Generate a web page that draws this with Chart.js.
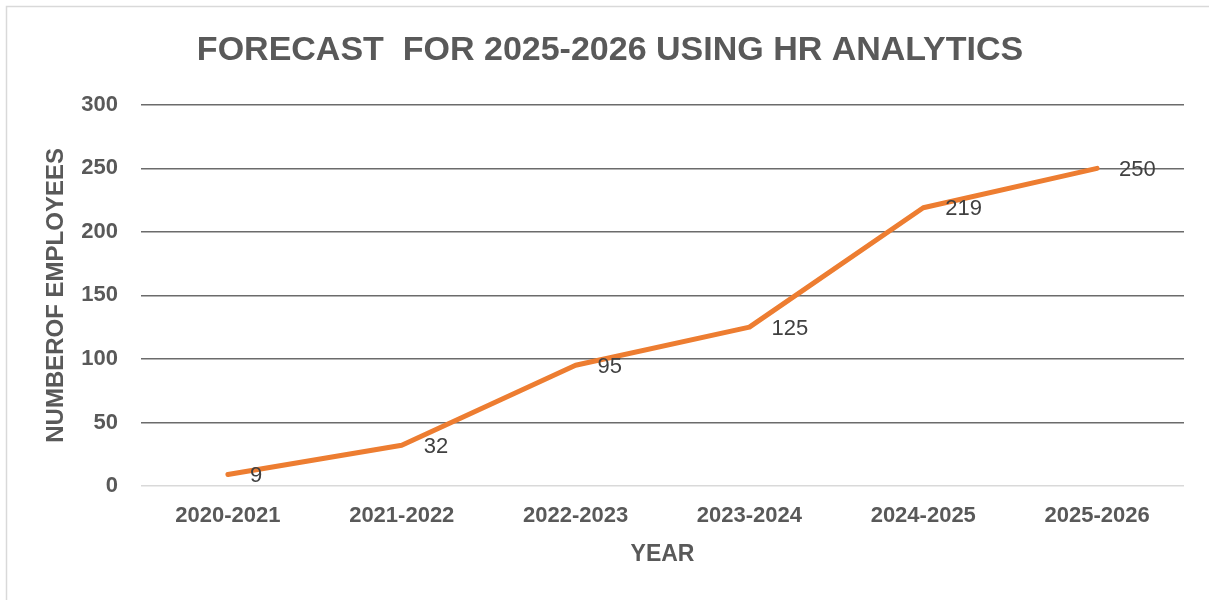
<!DOCTYPE html>
<html>
<head>
<meta charset="utf-8">
<script src="https://cdn.jsdelivr.net/npm/chart.js@4"></script>
<style>
  html, body { margin: 0; padding: 0; background: #fff; }
  #wrap { width: 1209px; height: 600px; position: relative; }
</style>
</head>
<body>
<div id="wrap"><canvas id="forecast"></canvas></div>
<script>
const years = ['2020-2021', '2021-2022', '2022-2023', '2023-2024', '2024-2025', '2025-2026'];
const employees = [9, 32, 95, 125, 219, 250];
const yMin = 0;
const yMax = 300;
const yStep = 50;

const grey = '#595959';
const fontFamily = '"Liberation Sans", Arial, sans-serif';

// borde claro alrededor del gráfico (se corta a la derecha y abajo)
const frame = {
    id: 'frame',
    beforeDraw(chart) {
        const ctx = chart.ctx;
        ctx.save();
        ctx.fillStyle = '#fff';
        ctx.fillRect(0, 0, chart.width, chart.height);
        ctx.strokeStyle = '#d9d9d9';
        ctx.lineWidth = 1.5;
        ctx.strokeRect(6.5, 6.5, chart.width + 10, chart.height + 10);
        ctx.restore();
    }
};

// etiquetas de valor a la derecha de cada punto
const valueLabels = {
    id: 'valueLabels',
    afterDatasetsDraw(chart) {
        const ctx = chart.ctx;
        const meta = chart.getDatasetMeta(0);
        ctx.save();
        ctx.font = '22px ' + fontFamily;
        ctx.fillStyle = '#404040';
        ctx.textAlign = 'left';
        ctx.textBaseline = 'middle';
        meta.data.forEach((pt, i) => {
            ctx.fillText(String(employees[i]), pt.x + 22, pt.y + 1.5);
        });
        ctx.restore();
    }
};

new Chart(document.getElementById('forecast'), {
    type: 'line',
    data: {
        labels: years,
        datasets: [{
            label: 'Employees',
            data: employees,
            borderColor: '#ED7D31',
            borderWidth: 5,
            borderCapStyle: 'round',
            borderJoinStyle: 'round',
            pointRadius: 0,
            tension: 0,
            fill: false
        }]
    },
    options: {
        responsive: true,
        maintainAspectRatio: false,
        animation: false,
        layout: { padding: { top: 0, right: 25, bottom: 0, left: 36 } },
        plugins: {
            legend: { display: false },
            tooltip: { enabled: false },
            title: {
                display: true,
                text: 'FORECAST  FOR 2025-2026 USING HR ANALYTICS',
                color: grey,
                font: { family: fontFamily, size: 34, weight: 'bold' },
                padding: { top: 30, bottom: 34 }
            }
        },
        scales: {
            x: {
                offset: true,
                grid: { display: false, drawTicks: false },
                border: { display: false },
                ticks: {
                    color: grey,
                    padding: 17,
                    maxRotation: 0,
                    font: { family: fontFamily, size: 22, weight: 'bold' }
                },
                title: {
                    display: true,
                    text: 'YEAR',
                    color: grey,
                    padding: { top: 0, bottom: 32 },
                    font: { family: fontFamily, size: 23, weight: 'bold' }
                },
                afterFit(scale) { scale.height = 114; }
            },
            y: {
                min: yMin,
                max: yMax,
                grid: {
                    drawTicks: false,
                    lineWidth: 1.5,
                    color: c => c.tick && c.tick.value === 0 ? '#d9d9d9' : '#6b6b6b'
                },
                border: { display: false },
                ticks: {
                    stepSize: yStep,
                    color: grey,
                    padding: 23,
                    font: { family: fontFamily, size: 22, weight: 'bold' }
                },
                title: {
                    display: true,
                    text: 'NUMBEROF EMPLOYEES',
                    color: grey,
                    padding: { top: 6, bottom: 0 },
                    font: { family: fontFamily, size: 24, weight: 'bold' }
                },
                afterFit(scale) { scale.width = 105; }
            }
        }
    },
    plugins: [frame, valueLabels]
});
</script>
</body>
</html>
